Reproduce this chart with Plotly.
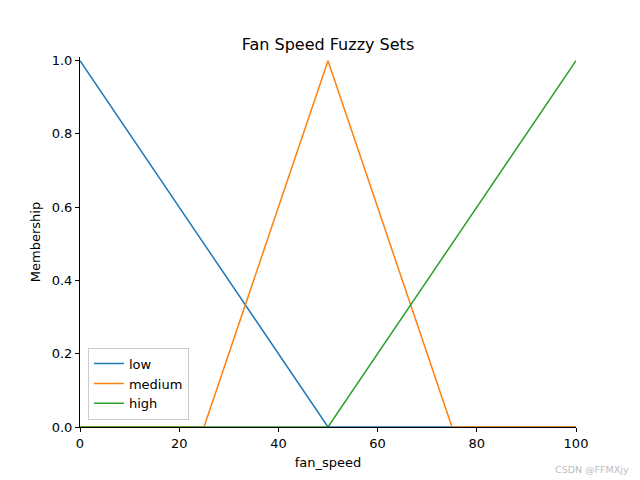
import plotly.graph_objects as go

# membership functions of the fan_speed universe
low_x = [0, 50, 100]
low_y = [1.0, 0.0, 0.0]
medium_x = [0, 25, 50, 75, 100]
medium_y = [0.0, 0.0, 1.0, 0.0, 0.0]
high_x = [0, 50, 100]
high_y = [0.0, 0.0, 1.0]

x_ticks = [0, 20, 40, 60, 80, 100]
y_ticks = [0.0, 0.2, 0.4, 0.6, 0.8, 1.0]

fig = go.Figure()
fig.add_trace(go.Scatter(x=low_x, y=low_y, mode="lines", name="low",
                         line=dict(color="#1f77b4", width=1.5)))
fig.add_trace(go.Scatter(x=medium_x, y=medium_y, mode="lines", name="medium",
                         line=dict(color="#ff7f0e", width=1.5)))
fig.add_trace(go.Scatter(x=high_x, y=high_y, mode="lines", name="high",
                         line=dict(color="#2ca02c", width=1.5)))

# the page body adds an 8px margin, so the figure is 8px smaller on each side
axis_font = dict(family="DejaVu Sans", size=13, color="black")
fig.update_layout(
    width=632, height=472,
    margin=dict(l=72, r=64, t=49, b=53),
    paper_bgcolor="white", plot_bgcolor="white",
    font=dict(family="DejaVu Sans", size=13, color="black"),
    title=dict(text="Fan Speed Fuzzy Sets", x=(80 + 248 - 8) / 632, xanchor="center",
               y=1 - 36 / 472, yanchor="middle",
               font=dict(family="DejaVu Sans", size=16, color="black")),
    xaxis=dict(range=[0, 100], tickvals=x_ticks, ticktext=[str(t) for t in x_ticks],
               showgrid=False, zeroline=False, showline=True, linecolor="black",
               linewidth=1, ticks="outside", ticklen=4, tickcolor="black",
               tickfont=axis_font, title=dict(text="fan_speed", font=axis_font, standoff=8)),
    yaxis=dict(range=[0, 1.01], tickvals=y_ticks, ticktext=[f"{t:.1f}" for t in y_ticks],
               showgrid=False, zeroline=False, showline=True, linecolor="black",
               linewidth=1, ticks="outside", ticklen=4, tickcolor="black",
               tickfont=axis_font, title=dict(text="Membership", font=axis_font, standoff=8)),
    legend=dict(x=0.016, y=0.02, xanchor="left", yanchor="bottom",
                bgcolor="white", bordercolor="#cccccc", borderwidth=1,
                font=dict(family="DejaVu Sans", size=13, color="black")),
    showlegend=True,
)

fig.add_annotation(text="CSDN @FFMXjy", xref="paper", yref="paper",
                   x=1 + 55 / 496, y=-42 / 370, xanchor="right", yanchor="middle",
                   showarrow=False, font=dict(family="DejaVu Sans", size=9.5, color="#bdbdbd"))

fig.write_html("out.html")
